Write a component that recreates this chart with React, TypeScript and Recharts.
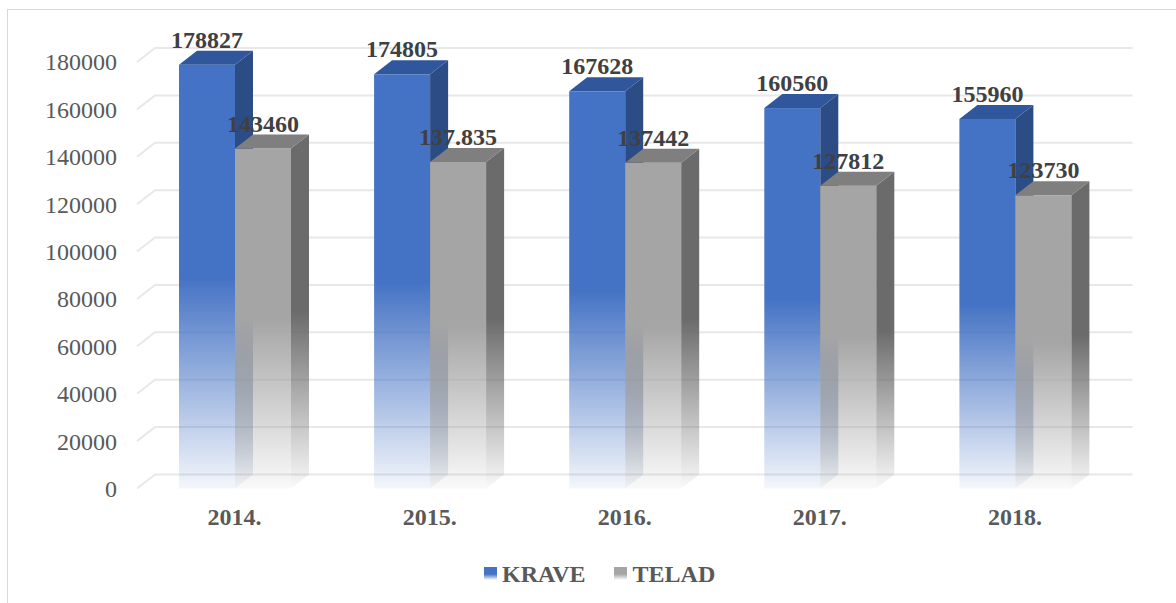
import React from 'react';
import { BarChart, Bar, XAxis, YAxis, CartesianGrid, Legend, LabelList } from 'recharts';

const categories = ['2014.', '2015.', '2016.', '2017.', '2018.'];
const kraveValues = [178827, 174805, 167628, 160560, 155960];
const teladValues = [143460, 137835, 137442, 127812, 123730];
const kraveLabels = ['178827', '174805', '167628', '160560', '155960'];
const teladLabels = ['143460', '137.835', '137442', '127812', '123730'];
const yTicks = [0, 20000, 40000, 60000, 80000, 100000, 120000, 140000, 160000, 180000];
const seriesNames = ['KRAVE', 'TELAD'];

const data = categories.map((name, i) => ({ name, krave: kraveValues[i], telad: teladValues[i] }));

const FONT = '"Liberation Serif", "Times New Roman", serif';
const DX = 18;
const DY = 14;

const STYLES = {
  krave: { front: '#4472C4', side: '#2B4C85', top: '#30579B' },
  telad: { front: '#A5A5A5', side: '#6B6B6B', top: '#7F7F7F' },
};

const make3DShape = (key: 'krave' | 'telad') => (props: any) => {
  const { x, y, width, height, index } = props;
  if (width == null || height == null) return <g />;
  const c = STYLES[key];
  const gid = `g-${key}-${index}`;
  const bottom = y + height;
  const r = x + width;
  return (
    <g>
      <defs>
        <linearGradient id={`${gid}-f`} x1="0" y1="0" x2="0" y2="1">
          <stop offset="0" stopColor={c.front} stopOpacity={1} />
          <stop offset="0.5" stopColor={c.front} stopOpacity={1} />
          <stop offset="1" stopColor={c.front} stopOpacity={0.06} />
        </linearGradient>
        <linearGradient id={`${gid}-s`} x1="0" y1="0" x2="0" y2="1">
          <stop offset="0" stopColor={c.side} stopOpacity={1} />
          <stop offset="0.5" stopColor={c.side} stopOpacity={1} />
          <stop offset="1" stopColor={c.side} stopOpacity={0.04} />
        </linearGradient>
      </defs>
      <rect x={x} y={y} width={width} height={height} fill={`url(#${gid}-f)`} />
      <polygon
        points={`${r},${y} ${r + DX},${y - DY} ${r + DX},${bottom - DY} ${r},${bottom}`}
        fill={`url(#${gid}-s)`}
      />
      <polygon
        points={`${x},${y} ${r},${y} ${r + DX},${y - DY} ${x + DX},${y - DY}`}
        fill={c.top}
      />
    </g>
  );
};

const makeValueLabel = (labels: string[]) => (props: any) => {
  const { x, y, width, index } = props;
  return (
    <text
      x={x + width / 2}
      y={y - 17}
      textAnchor="middle"
      fontFamily={FONT}
      fontWeight="bold"
      fontSize={24}
      fill="#404040"
    >
      {labels[index]}
    </text>
  );
};

const gridLine = (props: any) => {
  const { x1, x2, y1 } = props;
  return (
    <g key={`gl-${y1}`}>
      <polyline
        points={`${x1},${y1} ${x1 + DX},${y1 - DY} ${x2 + DX + 2},${y1 - DY}`}
        fill="none"
        stroke="#E8E8E8"
        strokeWidth={2}
      />
    </g>
  );
};

const YTick = (props: any) => {
  const { x, y, payload } = props;
  return (
    <text x={x - 20} y={y} dy="0.35em" textAnchor="end" fontFamily={FONT} fontSize={24} fill="#595959">
      {payload.value}
    </text>
  );
};

const XTick = (props: any) => {
  const { x, y, payload } = props;
  return (
    <text x={x} y={y + 36.5} textAnchor="middle" fontFamily={FONT} fontWeight="bold" fontSize={24} fill="#595959">
      {payload.value}
    </text>
  );
};

const legendSwatch = (color: string) =>
  `linear-gradient(${color} 0%, ${color} 55%, rgba(255,255,255,0.2) 100%)`;

const LegendContent = () => (
  <div style={{ display: 'flex', alignItems: 'center', fontFamily: FONT, fontWeight: 'bold', fontSize: 24, lineHeight: '28px', color: '#595959', whiteSpace: 'nowrap' }}>
    <span style={{ display: 'inline-block', width: 13, height: 13, background: legendSwatch(STYLES.krave.front) }} />
    <span style={{ marginLeft: 5 }}>{seriesNames[0]}</span>
    <span style={{ display: 'inline-block', width: 13, height: 13, marginLeft: 28, background: legendSwatch(STYLES.telad.front) }} />
    <span style={{ marginLeft: 6 }}>{seriesNames[1]}</span>
  </div>
);

export default function App() {
  return (
    <div style={{ position: 'absolute', left: 0, top: 0, width: 1176, height: 603, overflow: 'hidden', background: '#fff' }}>
      <div
        style={{
          position: 'absolute',
          left: 7,
          top: 9,
          width: 1300,
          height: 800,
          border: '1.5px solid #D9D9D9',
          boxSizing: 'border-box',
        }}
      />
      <div style={{ position: 'absolute', left: 0, top: 0 }}>
        <BarChart
          width={1176}
          height={603}
          data={data}
          margin={{ top: 62, right: 63.5, left: 0, bottom: 0 }}
          barGap={0}
          barSize={56}
        >
          <CartesianGrid vertical={false} horizontal={gridLine} />
          <XAxis
            dataKey="name"
            height={114.5}
            axisLine={false}
            tickLine={false}
            tickSize={0}
            tickMargin={0}
            interval={0}
            tick={XTick}
          />
          <YAxis
            width={137}
            domain={[0, 180000]}
            ticks={yTicks}
            axisLine={false}
            tickLine={false}
            tickSize={0}
            tickMargin={0}
            interval={0}
            tick={YTick}
          />
          <Legend
            layout="horizontal"
            verticalAlign="middle"
            align="center"
            content={LegendContent}
            wrapperStyle={{ left: 484, top: 559.5, width: 'auto', height: 28, margin: 0 }}
          />
          <Bar dataKey="krave" name={seriesNames[0]} isAnimationActive={false} shape={make3DShape('krave')}>
            <LabelList dataKey="krave" content={makeValueLabel(kraveLabels)} />
          </Bar>
          <Bar dataKey="telad" name={seriesNames[1]} isAnimationActive={false} shape={make3DShape('telad')}>
            <LabelList dataKey="telad" content={makeValueLabel(teladLabels)} />
          </Bar>
        </BarChart>
      </div>
    </div>
  );
}
